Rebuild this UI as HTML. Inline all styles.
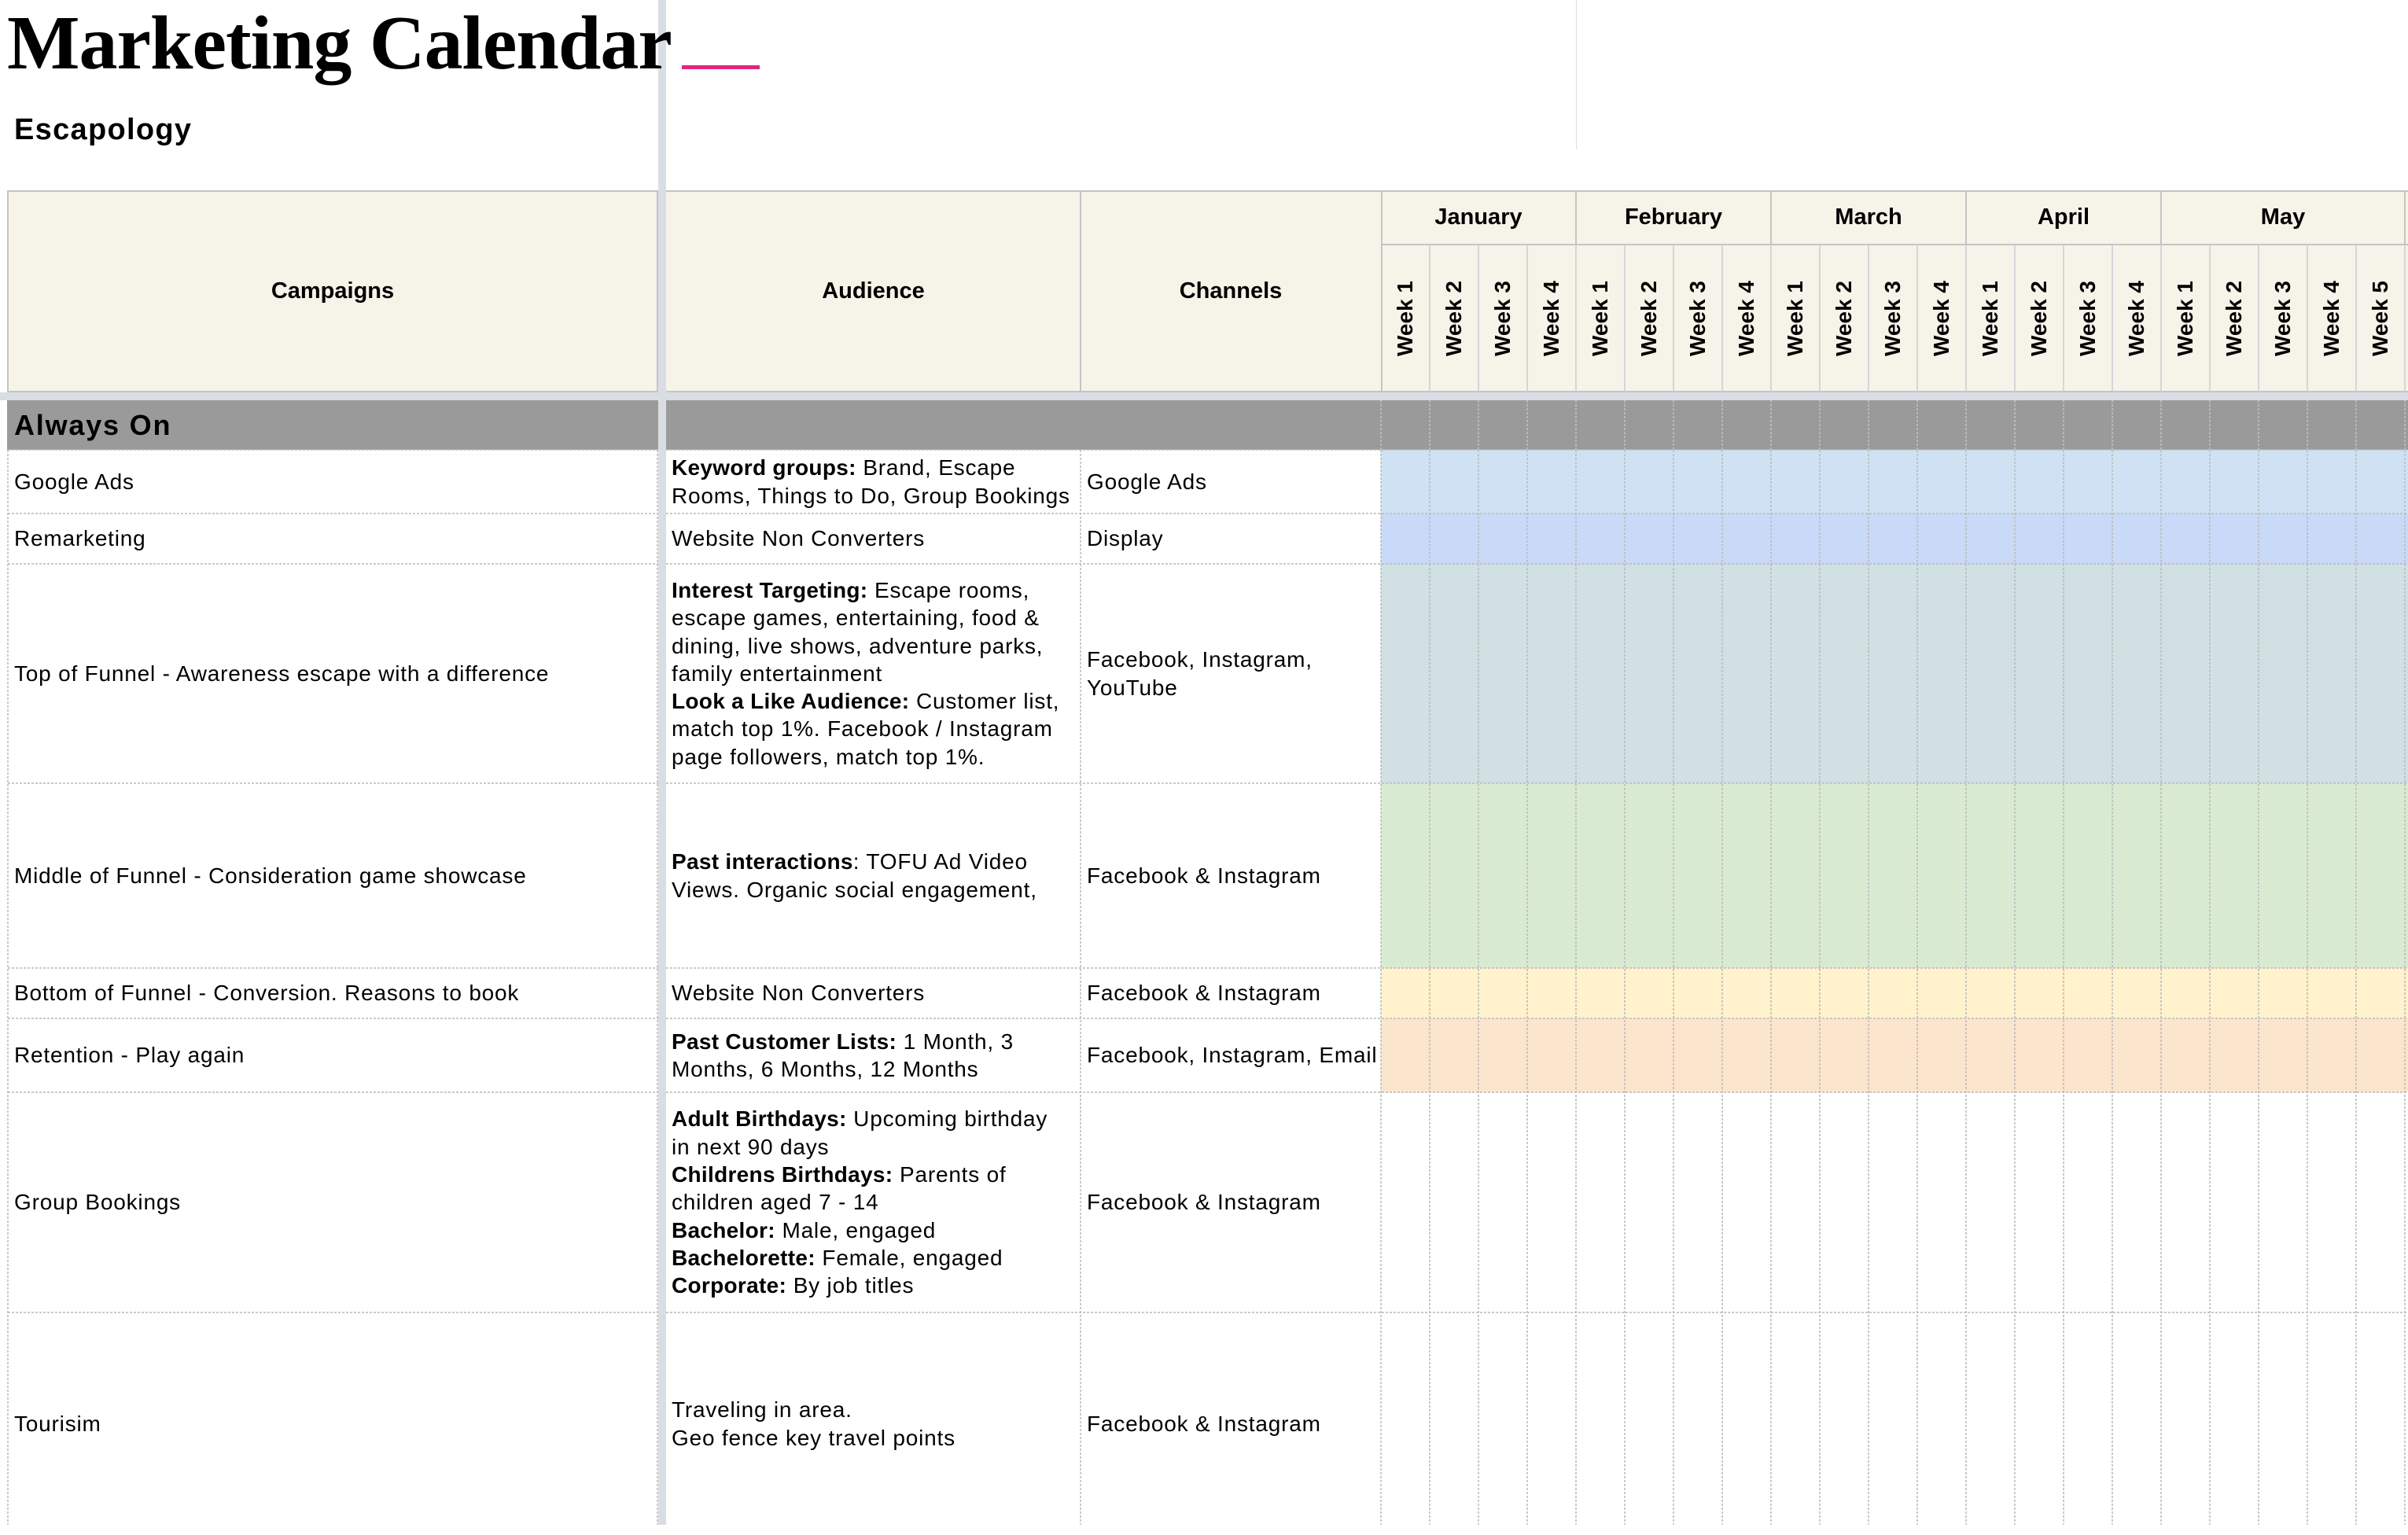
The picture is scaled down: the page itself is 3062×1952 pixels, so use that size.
<!DOCTYPE html>
<html><head><meta charset="utf-8">
<style>
*{box-sizing:border-box}
body{margin:0;width:3062px;height:1939px;overflow:hidden;position:relative;background:#fff;font-family:"Liberation Sans",Arial,sans-serif;color:#000}
.a{position:absolute}
.cell{position:absolute;display:flex;align-items:center;font-size:28px;line-height:35.3px;letter-spacing:0.8px;white-space:nowrap}
.cell b{letter-spacing:0.3px}
.hd{position:absolute;display:flex;align-items:center;justify-content:center;font-weight:bold;font-size:29px;white-space:nowrap}
.wk{position:absolute;top:311px;width:62px;height:188px;display:flex;align-items:center;justify-content:center}
.wk span{writing-mode:vertical-rl;transform:rotate(180deg);font-weight:bold;font-size:28px;line-height:1;white-space:nowrap}
</style></head><body>

<div class="a" style="left:2004px;top:0;width:1px;height:190px;background:#dedede"></div>

<!-- Header fills -->
<div class="a" style="left:9px;top:242px;width:828px;height:257px;background:#f6f3e9;border:2px solid #c4c4c4"></div>
<div class="a" style="left:847px;top:242px;width:2215px;height:257px;background:#f6f3e9"></div>

<!-- Always On fills -->
<div class="a" style="left:9px;top:509px;width:828px;height:63px;background:#9b9a9b"></div>
<div class="a" style="left:847px;top:509px;width:2215px;height:63px;background:#9b9a9b"></div>

<!-- Row week fills -->
<div class="a" style="left:1756px;top:572px;width:1306px;height:81px;background:#cfe2f3"></div>
<div class="a" style="left:1756px;top:653px;width:1306px;height:64px;background:#c9daf8"></div>
<div class="a" style="left:1756px;top:717px;width:1306px;height:279px;background:#d0e0e3"></div>
<div class="a" style="left:1756px;top:996px;width:1306px;height:235px;background:#d9ead3"></div>
<div class="a" style="left:1756px;top:1231px;width:1306px;height:64px;background:#fff2cc"></div>
<div class="a" style="left:1756px;top:1295px;width:1306px;height:94px;background:#fce5cd"></div>

<!-- Grid lines -->
<svg class="a" style="left:0;top:0" width="3062" height="1939" xmlns="http://www.w3.org/2000/svg">
  <g stroke="#c4c4c4" stroke-width="2" fill="none">
    <path d="M847 243H3062 M847 498H3062 M1756 311H3062 M1374 242V499 M1757 242V499 M2004 242V311 M2252 242V311 M2500 242V311 M2748 242V311 M3058 242V311"/>
  </g>
  <g stroke="#c9ccd2" stroke-width="1.5" fill="none">
    <path d="M1818 311V498 M1880 311V498 M1942 311V498 M2004 311V498 M2066 311V498 M2128 311V498 M2190 311V498 M2252 311V498 M2314 311V498 M2376 311V498 M2438 311V498 M2500 311V498 M2562 311V498 M2624 311V498 M2686 311V498 M2748 311V498 M2810 311V498 M2872 311V498 M2934 311V498 M2996 311V498 M3058 311V498"/>
  </g>
  <g stroke="#c2c2c2" stroke-width="1.5" stroke-dasharray="3 2" fill="none">
    <path d="M1756 509V572 M1818 509V572 M1880 509V572 M1942 509V572 M2004 509V572 M2066 509V572 M2128 509V572 M2190 509V572 M2252 509V572 M2314 509V572 M2376 509V572 M2438 509V572 M2500 509V572 M2562 509V572 M2624 509V572 M2686 509V572 M2748 509V572 M2810 509V572 M2872 509V572 M2934 509V572 M2996 509V572 M3058 509V572"/>
  </g>
  <g stroke="#b9b9b9" stroke-width="1.5" stroke-dasharray="3 2" fill="none">
    <path d="M10 572V1939 M836 572V1939 M1374 572V1939 M1756 572V1939 M1818 572V1939 M1880 572V1939 M1942 572V1939 M2004 572V1939 M2066 572V1939 M2128 572V1939 M2190 572V1939 M2252 572V1939 M2314 572V1939 M2376 572V1939 M2438 572V1939 M2500 572V1939 M2562 572V1939 M2624 572V1939 M2686 572V1939 M2748 572V1939 M2810 572V1939 M2872 572V1939 M2934 572V1939 M2996 572V1939 M3058 572V1939"/>
    <path d="M10 572H837 M847 572H3062 M10 653H837 M847 653H3062 M10 717H837 M847 717H3062 M10 996H837 M847 996H3062 M10 1231H837 M847 1231H3062 M10 1295H837 M847 1295H3062 M10 1389H837 M847 1389H3062 M10 1669H837 M847 1669H3062"/>
  </g>
</svg>

<!-- Frozen pane separators -->
<div class="a" style="left:837px;top:0;width:10px;height:1939px;background:#d9dee5"></div>
<div class="a" style="left:0;top:499px;width:3062px;height:10px;background:#d9dee5"></div>

<!-- Title (above separator) -->
<div class="a" style="left:9px;top:6px;font-family:'Liberation Serif',serif;font-weight:bold;font-size:98px;line-height:98px;letter-spacing:-1px;white-space:nowrap">Marketing Calendar</div>
<div class="a" style="left:867px;top:83px;width:99px;height:5px;background:#e2267a"></div>
<div class="a" style="left:18px;top:146px;font-weight:bold;font-size:38px;line-height:38px;letter-spacing:1.3px;white-space:nowrap">Escapology</div>

<!-- Header labels -->
<div class="hd" style="left:9px;top:242px;width:828px;height:257px">Campaigns</div>
<div class="hd" style="left:847px;top:242px;width:527px;height:257px">Audience</div>
<div class="hd" style="left:1374px;top:242px;width:382px;height:257px">Channels</div>
<div class="hd" style="left:1756px;top:242px;width:248px;height:69px">January</div>
<div class="hd" style="left:2004px;top:242px;width:248px;height:69px">February</div>
<div class="hd" style="left:2252px;top:242px;width:248px;height:69px">March</div>
<div class="hd" style="left:2500px;top:242px;width:248px;height:69px">April</div>
<div class="hd" style="left:2748px;top:242px;width:310px;height:69px">May</div>

<div class="wk" style="left:1756px"><span>Week 1</span></div>
<div class="wk" style="left:1818px"><span>Week 2</span></div>
<div class="wk" style="left:1880px"><span>Week 3</span></div>
<div class="wk" style="left:1942px"><span>Week 4</span></div>
<div class="wk" style="left:2004px"><span>Week 1</span></div>
<div class="wk" style="left:2066px"><span>Week 2</span></div>
<div class="wk" style="left:2128px"><span>Week 3</span></div>
<div class="wk" style="left:2190px"><span>Week 4</span></div>
<div class="wk" style="left:2252px"><span>Week 1</span></div>
<div class="wk" style="left:2314px"><span>Week 2</span></div>
<div class="wk" style="left:2376px"><span>Week 3</span></div>
<div class="wk" style="left:2438px"><span>Week 4</span></div>
<div class="wk" style="left:2500px"><span>Week 1</span></div>
<div class="wk" style="left:2562px"><span>Week 2</span></div>
<div class="wk" style="left:2624px"><span>Week 3</span></div>
<div class="wk" style="left:2686px"><span>Week 4</span></div>
<div class="wk" style="left:2748px"><span>Week 1</span></div>
<div class="wk" style="left:2810px"><span>Week 2</span></div>
<div class="wk" style="left:2872px"><span>Week 3</span></div>
<div class="wk" style="left:2934px"><span>Week 4</span></div>
<div class="wk" style="left:2996px"><span>Week 5</span></div>

<!-- Always On -->
<div class="a" style="left:18px;top:509px;height:63px;display:flex;align-items:center;font-weight:bold;font-size:36px;letter-spacing:1.8px;white-space:nowrap">Always On</div>

<!-- Rows -->
<div class="cell" style="left:18px;top:572px;width:815px;height:81px">Google Ads</div>
<div class="cell" style="left:854px;top:572px;width:515px;height:81px"><div><b>Keyword groups:</b> Brand, Escape<br>Rooms, Things to Do, Group Bookings</div></div>
<div class="cell" style="left:1382px;top:572px;width:370px;height:81px">Google Ads</div>

<div class="cell" style="left:18px;top:653px;width:815px;height:64px">Remarketing</div>
<div class="cell" style="left:854px;top:653px;width:515px;height:64px">Website Non Converters</div>
<div class="cell" style="left:1382px;top:653px;width:370px;height:64px">Display</div>

<div class="cell" style="left:18px;top:717px;width:815px;height:279px">Top of Funnel - Awareness escape with a difference</div>
<div class="cell" style="left:854px;top:717px;width:515px;height:279px"><div><b>Interest Targeting:</b> Escape rooms,<br>escape games, entertaining, food &amp;<br>dining, live shows, adventure parks,<br>family entertainment<br><b>Look a Like Audience:</b> Customer list,<br>match top 1%. Facebook / Instagram<br>page followers, match top 1%.</div></div>
<div class="cell" style="left:1382px;top:717px;width:370px;height:279px"><div>Facebook, Instagram,<br>YouTube</div></div>

<div class="cell" style="left:18px;top:996px;width:815px;height:235px">Middle of Funnel - Consideration game showcase</div>
<div class="cell" style="left:854px;top:996px;width:515px;height:235px"><div><b>Past interactions</b>: TOFU Ad Video<br>Views. Organic social engagement,</div></div>
<div class="cell" style="left:1382px;top:996px;width:370px;height:235px">Facebook &amp; Instagram</div>

<div class="cell" style="left:18px;top:1231px;width:815px;height:64px">Bottom of Funnel - Conversion. Reasons to book</div>
<div class="cell" style="left:854px;top:1231px;width:515px;height:64px">Website Non Converters</div>
<div class="cell" style="left:1382px;top:1231px;width:370px;height:64px">Facebook &amp; Instagram</div>

<div class="cell" style="left:18px;top:1295px;width:815px;height:94px">Retention - Play again</div>
<div class="cell" style="left:854px;top:1295px;width:515px;height:94px"><div><b>Past Customer Lists:</b> 1 Month, 3<br>Months, 6 Months, 12 Months</div></div>
<div class="cell" style="left:1382px;top:1295px;width:370px;height:94px">Facebook, Instagram, Email</div>

<div class="cell" style="left:18px;top:1389px;width:815px;height:280px">Group Bookings</div>
<div class="cell" style="left:854px;top:1389px;width:515px;height:280px"><div><b>Adult Birthdays:</b> Upcoming birthday<br>in next 90 days<br><b>Childrens Birthdays:</b> Parents of<br>children aged 7 - 14<br><b>Bachelor:</b> Male, engaged<br><b>Bachelorette:</b> Female, engaged<br><b>Corporate:</b> By job titles</div></div>
<div class="cell" style="left:1382px;top:1389px;width:370px;height:280px">Facebook &amp; Instagram</div>

<div class="cell" style="left:18px;top:1669px;width:815px;height:283px">Tourisim</div>
<div class="cell" style="left:854px;top:1669px;width:515px;height:283px"><div>Traveling in area.<br>Geo fence key travel points</div></div>
<div class="cell" style="left:1382px;top:1669px;width:370px;height:283px">Facebook &amp; Instagram</div>

</body></html>
